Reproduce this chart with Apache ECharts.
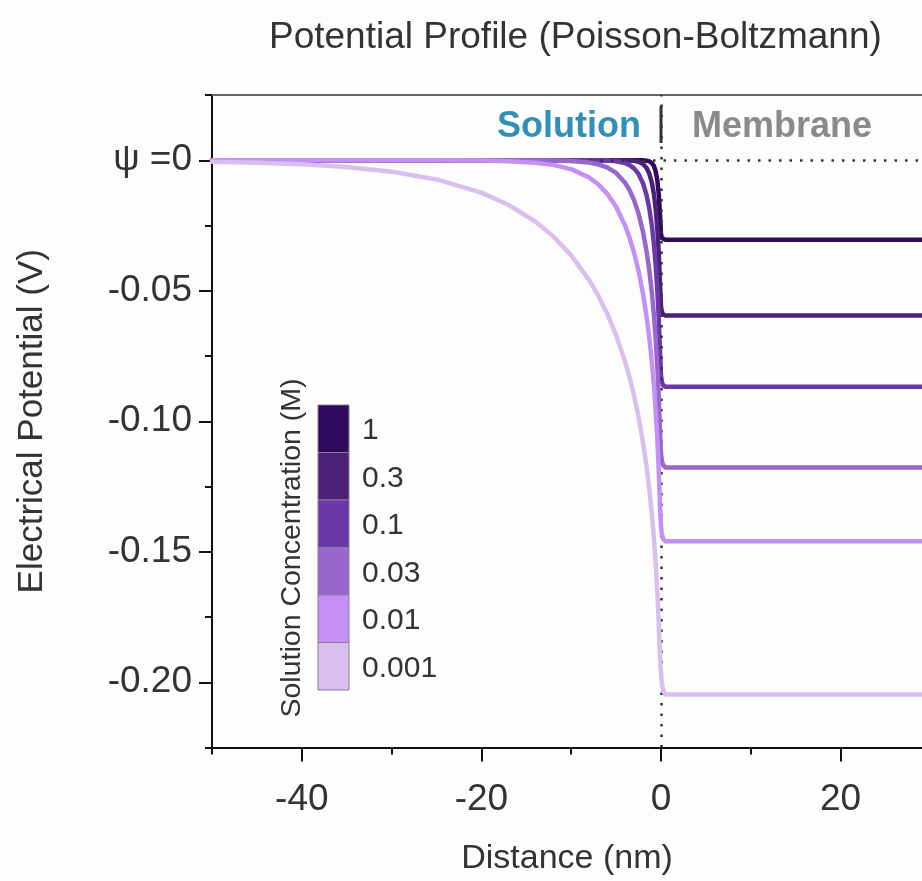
<!DOCTYPE html>
<html>
<head>
<meta charset="utf-8">
<script src="https://cdn.jsdelivr.net/npm/echarts@6/dist/echarts.min.js"></script>
<style>
  html, body { margin: 0; padding: 0; background: #fdfdfd; }
  #chart { width: 922px; height: 881px; }
</style>
</head>
<body>
<div id="chart"></div>
<script>
// distance from the interface (nm), negative = solution side
const distance = [-50, -45, -40, -35, -30, -25, -20, -17, -14, -12,
  -10, -8, -7, -6, -5, -4, -3.5, -3, -2.5, -2,
  -1.6, -1.3, -1, -0.8, -0.6, -0.4, -0.25, -0.1, 0, 0.1,
  0.25, 0.5, 30]

// potential (V) for each solution concentration
const psi1 = [0, 0, 0, 0, 0, 0, 0, 0, 0, 0,
  0, 0, 0, 0, 0, 0, 0, 0, -0.00001, -0.00004,
  -0.00015, -0.00041, -0.00111, -0.00213, -0.00412, -0.00797, -0.0131, -0.02164, -0.0283, -0.0298,
  -0.0303, -0.0305, -0.0305]
const psi03 = [0, 0, 0, 0, 0, 0, 0, 0, 0, 0,
  0, 0, 0, 0, 0, -0.00004, -0.0001, -0.00024, -0.00059, -0.00146,
  -0.003, -0.00516, -0.00887, -0.01276, -0.01839, -0.02667, -0.03553, -0.04801, -0.056, -0.058,
  -0.0591, -0.0595, -0.0595]
const psi01 = [0, 0, 0, 0, 0, 0, 0, 0, 0, 0,
  0, -0.00002, -0.00005, -0.00014, -0.00039, -0.0011, -0.00185, -0.00312, -0.00525, -0.00885,
  -0.01346, -0.01848, -0.02549, -0.03174, -0.03975, -0.05032, -0.06074, -0.07453, -0.0825, -0.085,
  -0.0863, -0.0868, -0.0868]
const psi003 = [0, 0, 0, 0, 0, 0, 0, 0, -0.00003, -0.00009,
  -0.00028, -0.00088, -0.00155, -0.00275, -0.00486, -0.00861, -0.01147, -0.01529, -0.02045, -0.02748,
  -0.035, -0.04222, -0.05132, -0.05887, -0.06805, -0.07965, -0.0907, -0.1051, -0.1125, -0.1153,
  -0.1169, -0.1177, -0.1177]
const psi001 = [0, 0, 0, 0, 0, -0.00003, -0.00013, -0.00034, -0.00092, -0.00177,
  -0.00341, -0.00659, -0.00917, -0.01277, -0.01783, -0.02501, -0.02973, -0.03544, -0.04244, -0.05122,
  -0.06004, -0.06812, -0.07797, -0.08594, -0.09554, -0.1074, -0.1187, -0.1333, -0.1405, -0.1432,
  -0.1452, -0.146, -0.146]
const psi0001 = [-0.00055, -0.00092, -0.00154, -0.0026, -0.00437, -0.00736, -0.01242, -0.01705, -0.02348, -0.02917,
  -0.03644, -0.04591, -0.05178, -0.05869, -0.06698, -0.07715, -0.08323, -0.09018, -0.09835, -0.1081,
  -0.1176, -0.1261, -0.1362, -0.1444, -0.1542, -0.1662, -0.1775, -0.1921, -0.1965, -0.2006,
  -0.2033, -0.2047, -0.2047]

const concLabels = ['1', '0.3', '0.1', '0.03', '0.01', '0.001']
const concValues = [psi1, psi03, psi01, psi003, psi001, psi0001]
const colors = ['#2e0b5e', '#4b2278', '#6a38a8', '#9866cc', '#c590f6', '#d8bfef']

// tick positions
const xMinorTicks = [-50, -40, -30, -20, -10, 0, 10, 20]
const xMajorTicks = [-40, -20, 0, 20]

const FONT = '"Liberation Sans", Arial, sans-serif'

// plot area (right side runs to the page edge)
const plotLeft = 212, plotTop = 95
const pxPerNm = 8.98, pxPerV = 2610
const plotW = 922 - plotLeft
const xMin = -50, xMax = xMin + plotW / pxPerNm
const yMin = -0.225, yMax = 0.025
const plotH = (yMax - yMin) * pxPerV

var myChart = echarts.init(document.getElementById('chart'))

let seriesList = concValues.map((vals, i) => {
  return {
    name: concLabels[i],
    type: 'line',
    xAxisIndex: 0,
    yAxisIndex: 0,
    showSymbol: false,
    symbol: 'none',
    data: distance.map((d, j) => [d, vals[j]]),
    lineStyle: { color: colors[i], width: 4.5, cap: 'round', join: 'round' },
    itemStyle: { color: colors[i] },
    z: 2 + i
  }
})

// dotted reference lines at psi = 0 and x = 0
seriesList.push({
  type: 'line',
  xAxisIndex: 0,
  yAxisIndex: 0,
  data: [],
  z: 20,
  markLine: {
    silent: true,
    symbol: ['none', 'none'],
    label: { show: false },
    lineStyle: { color: '#333', width: 2.5, type: [2.5, 8], cap: 'butt' },
    data: [{ yAxis: 0 }, { xAxis: 0 }]
  }
})

// legend built as a colour bar
let legendChildren = []
const legX = 318, legY = 405, cellW = 31, cellH = 47.5
concLabels.forEach((lab, i) => {
  legendChildren.push({
    type: 'rect',
    shape: { x: legX, y: legY + i * cellH, width: cellW, height: cellH },
    style: { fill: colors[i], stroke: '#8a7a98', lineWidth: 1 }
  })
  legendChildren.push({
    type: 'text',
    style: {
      text: lab, x: legX + 44, y: legY + i * cellH + cellH / 2 + 2,
      font: '30px ' + FONT, fill: '#333', textAlign: 'left', textVerticalAlign: 'middle'
    }
  })
})

let option = {
  backgroundColor: '#fdfdfd',
  animation: false,
  title: {
    text: 'Potential Profile (Poisson-Boltzmann)',
    left: 264,
    top: 14,
    textStyle: { fontFamily: FONT, fontSize: 37, fontWeight: 'normal', color: '#333' }
  },
  grid: [
    {
      left: plotLeft, top: plotTop, width: plotW, height: plotH, show: false
    },
    {
      // grid for the labelled major ticks
      left: plotLeft + (-40 - xMin) * pxPerNm,
      top: plotTop + (yMax - 0) * pxPerV,
      width: 60 * pxPerNm,
      height: 0.2 * pxPerV,
      show: false
    }
  ],
  xAxis: [
    {
      gridIndex: 0, type: 'value', min: xMin, max: xMax, interval: 10,
      axisLine: { show: true, onZero: false, lineStyle: { color: '#111', width: 2 } },
      axisTick: { show: true, length: 7, customValues: xMinorTicks, lineStyle: { color: '#111', width: 2 } },
      axisLabel: { show: false },
      splitLine: { show: false },
      name: 'Distance (nm)',
      nameLocation: 'middle',
      nameGap: 94,
      nameTextStyle: { fontFamily: FONT, fontSize: 34, color: '#333' }
    },
    {
      gridIndex: 1, type: 'value', min: -40, max: 20, interval: 20,
      offset: (plotTop + plotH) - (plotTop + (yMax) * pxPerV + 0.2 * pxPerV),
      axisLine: { show: false, onZero: false },
      axisTick: { show: true, length: 14, customValues: xMajorTicks, lineStyle: { color: '#111', width: 2 } },
      axisLabel: { fontFamily: FONT, fontSize: 37, color: '#333', margin: 34 },
      splitLine: { show: false }
    },
    {
      // top frame line
      gridIndex: 0, type: 'value', position: 'top', min: xMin, max: xMax,
      axisLine: { show: true, onZero: false, lineStyle: { color: '#666', width: 2 } },
      axisTick: { show: false },
      axisLabel: { show: false },
      splitLine: { show: false }
    }
  ],
  yAxis: [
    {
      gridIndex: 0, type: 'value', min: yMin, max: yMax, interval: 0.025,
      axisLine: { show: true, onZero: false, lineStyle: { color: '#111', width: 2 } },
      axisTick: { show: true, length: 7, lineStyle: { color: '#111', width: 2 } },
      axisLabel: { show: false },
      splitLine: { show: false },
      name: 'Electrical Potential (V)',
      nameLocation: 'middle',
      nameGap: 162,
      nameTextStyle: { fontFamily: FONT, fontSize: 35, color: '#333' }
    },
    {
      gridIndex: 1, type: 'value', min: -0.2, max: 0, interval: 0.05,
      offset: (-40 - xMin) * pxPerNm,
      axisLine: { show: false, onZero: false },
      axisTick: { show: true, length: 13, lineStyle: { color: '#111', width: 2 } },
      axisLabel: {
        fontFamily: FONT, fontSize: 37, color: '#333', margin: 20,
        formatter: v => (Math.abs(v) < 1e-9 ? 'ψ =0' : v.toFixed(2))
      },
      splitLine: { show: false }
    }
  ],
  graphic: [
    {
      type: 'text',
      style: {
        text: 'Solution', x: 641, y: 127, font: 'bold 36px ' + FONT,
        fill: '#3190b7', textAlign: 'right', textVerticalAlign: 'middle'
      }
    },
    {
      type: 'text',
      style: {
        text: 'Membrane', x: 692, y: 127, font: 'bold 36px ' + FONT,
        fill: '#8a8a8a', textAlign: 'left', textVerticalAlign: 'middle'
      }
    },
    {
      type: 'line',
      shape: { x1: 661, y1: 106, x2: 661, y2: 143 },
      style: { stroke: '#333', lineWidth: 3 }
    },
    {
      type: 'group',
      children: legendChildren
    },
    {
      type: 'text',
      x: 292,
      y: 548,
      rotation: Math.PI / 2,
      style: {
        text: 'Solution Concentration (M)', x: 0, y: 0, font: '28.5px ' + FONT,
        fill: '#333', textAlign: 'center', textVerticalAlign: 'middle'
      }
    }
  ],
  series: seriesList
}

myChart.setOption(option)
</script>
</body>
</html>
